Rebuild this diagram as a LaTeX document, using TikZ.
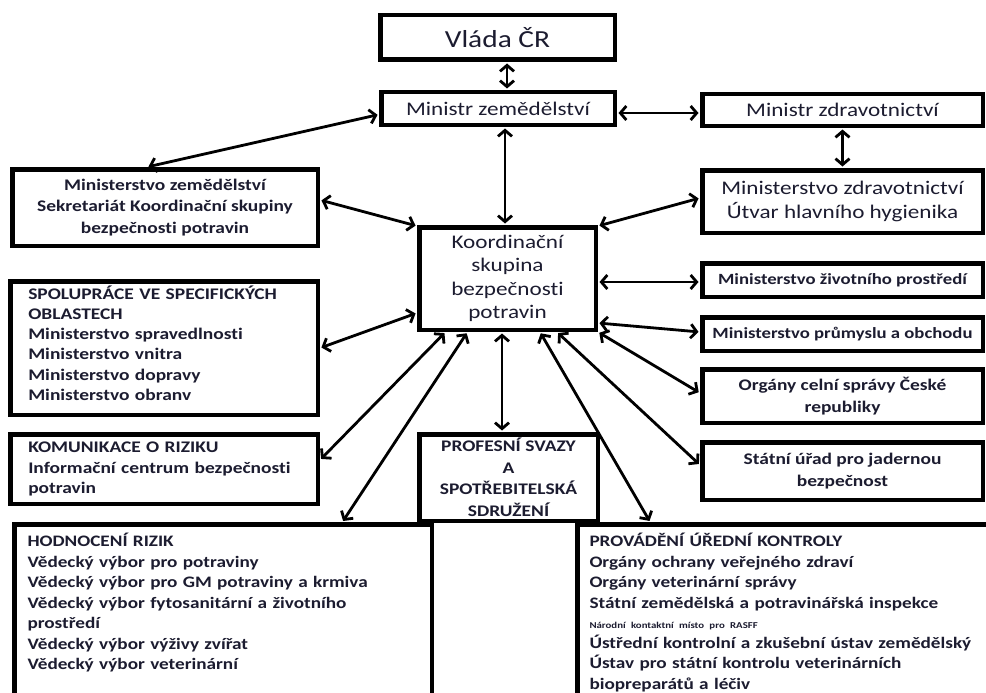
\documentclass[tikz,border=0pt]{standalone}
\usepackage{fontspec}
\setmainfont{Carlito}[FakeStretch=1.2,Ligatures={NoCommon,NoContextual}]
\usetikzlibrary{arrows.meta}
\definecolor{ink}{RGB}{28,28,48}
\tikzset{
    >={Straight Barb[length=6pt,width=14pt]},
    box/.style={draw,line width=4.5pt,fill=white,text=ink,inner sep=0pt},
    bigtext/.style={font=\fontsize{19.3}{23.5}\selectfont},
    smalltext/.style={font=\fontsize{16.2}{21.5}\selectfont\bfseries},
    listtext/.style={font=\fontsize{16}{20.5}\selectfont\bfseries},
    link/.style={<->,line width=2.8pt,shorten <=1.5pt,shorten >=1.5pt}
}

\begin{document}
\begin{tikzpicture}[x=1pt,y=-1pt]
    \useasboundingbox (0,0) rectangle (986,693);
    \clip (0,0) rectangle (986,693);
    \node[box,font=\fontsize{24.5}{28}\selectfont,minimum width=234.5pt,minimum height=44.5pt] at (497.5,37.5) (vlada) {Vláda ČR};
    \node[box,bigtext,minimum width=233.5pt,minimum height=32.5pt] at (498,108.5) (minzem) {Ministr zemědělství};
    \node[box,bigtext,minimum width=280.5pt,minimum height=31.5pt] at (842.5,110) (minzdr) {Ministr zdravotnictví};
    \node[box,bigtext,align=center,minimum width=280.5pt,minimum height=62.5pt] at (842.5,201.5) (mzdr) {Ministerstvo zdravotnictví\\Útvar hlavního hygienika};
    \node[box,smalltext,align=center,minimum width=305.5pt,minimum height=76.5pt] at (165,207.5) (sekr) {Ministerstvo zemědělství\\Sekretariát Koordinační skupiny\\bezpečnosti potravin};
    \node[box,bigtext,align=center,minimum width=176.5pt,minimum height=102.5pt] at (507.5,278.5) (koord) {Koordinační\\skupina\\bezpečnosti\\potravin};
    \node[box,smalltext,align=left,text width=271.5pt,inner xsep=18pt,text height=17.75pt,text depth=115.75pt,font=\fontsize{16.2}{20.3}\selectfont\bfseries] at (164,348) (spol) {SPOLUPRÁCE VE SPECIFICKÝCH\\OBLASTECH\\Ministerstvo spravedlnosti\\Ministerstvo vnitra\\Ministerstvo dopravy\\Ministerstvo obranv};
    \node[box,smalltext,align=left,text width=271.5pt,inner xsep=18pt,minimum height=69.5pt,font=\fontsize{16.2}{20.5}\selectfont\bfseries] at (164,469) (komun) {KOMUNIKACE O RIZIKU\\Informační centrum bezpečnosti\\potravin};
    \node[box,smalltext,minimum width=280.5pt,minimum height=33.5pt,font=\fontsize{15.6}{20}\selectfont\bfseries] at (842.5,280) (zivot) {Ministerstvo životního prostředí};
    \node[box,smalltext,minimum width=280.5pt,minimum height=33.5pt,font=\fontsize{15.6}{20}\selectfont\bfseries] at (842.5,334) (prum) {Ministerstvo průmyslu a obchodu};
    \node[box,smalltext,align=center,minimum width=280.5pt,minimum height=53.5pt] at (842.5,396) (celni) {Orgány celní správy České\\republiky};
    \node[box,smalltext,align=center,minimum width=280.5pt,minimum height=57.5pt] at (842.5,471) (jader) {Státní úřad pro jadernou\\bezpečnost};
    \node[box,listtext,anchor=north west,align=left,text width=391.5pt,inner xsep=13pt,inner ysep=9pt,text depth=250pt] at (12.25,522.25) (hodn) {HODNOCENÍ RIZIK\\Vědecký výbor pro potraviny\\Vědecký výbor pro GM potraviny a krmiva\\Vědecký výbor fytosanitární a životního\\prostředí\\Vědecký výbor výživy zvířat\\Vědecký výbor veterinární};
    \node[box,listtext,anchor=north west,align=left,text width=393pt,inner xsep=12pt,inner ysep=9pt,text depth=250pt] at (575.25,522.25) (provad) {PROVÁDĚNÍ ÚŘEDNÍ KONTROLY\\Orgány ochrany veřejného zdraví\\Orgány veterinární správy\\Státní zemědělská a potravinářská inspekce\\{\fontsize{9}{12}\selectfont Národní kontaktní místo pro RASFF}\\[-1pt]Ústřední kontrolní a zkušební ústav zemědělský\\Ústav pro státní kontrolu veterinárních\\biopreparátů a léčiv};
    \node[box,smalltext,align=center,minimum width=178.5pt,minimum height=86.5pt] at (508.5,477.5) (profes) {PROFESNÍ SVAZY\\A\\SPOTŘEBITELSKÁ\\SDRUŽENÍ};
    \path[link]
    ([xshift=9.5pt]vlada.south) edge ([xshift=9pt]minzem.north)
    ([yshift=-4.5pt]minzem.east) edge ([yshift=-3pt]minzdr.west)
    (minzdr.south) edge (mzdr.north)
    ([yshift=-6pt]minzem.west) edge ([xshift=-18pt]sekr.north)
    ([xshift=7pt]minzem.south) edge ([xshift=-2.5pt]koord.north)
    ([yshift=7.5pt]sekr.east) edge ([yshift=-1pt]koord.north west)
    ([yshift=3.5pt]mzdr.west) edge ([yshift=-1pt]koord.north east)
    (spol.east) edge ([yshift=-34.5pt]koord.west)
    ([yshift=9pt]komun.east) edge ([xshift=-62pt]koord.south)
    ([xshift=119pt]hodn.north) edge ([xshift=-40pt]koord.south)
    ([xshift=-5.5pt]koord.south) edge ([xshift=-6.5pt]profes.north)
    ([xshift=32.5pt]koord.south) edge ([xshift=75pt]provad.north west)
    ([xshift=49.5pt]koord.south) edge ([yshift=6pt]jader.west)
    (koord.south east) edge ([yshift=3pt]celni.west)
    ([yshift=-44.5pt]koord.east) edge ([yshift=2pt]prum.west)
    ([yshift=-3.5pt]koord.east) edge ([yshift=-2pt]zivot.west)
    ;
\end{tikzpicture}
\end{document}
